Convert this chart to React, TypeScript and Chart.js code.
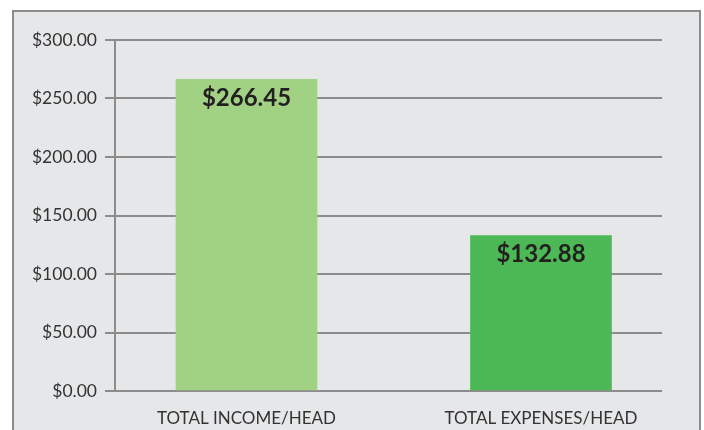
import React, { useEffect, useRef } from "react";
import { Chart, registerables } from "chart.js";

Chart.register(...registerables);

const categories = ["TOTAL INCOME/HEAD", "TOTAL EXPENSES/HEAD"];
const values = [266.45, 132.88];
const valueLabels = ["$266.45", "$132.88"];
const barColors = ["#a1d283", "#4cb856"];
const yTicks = [0, 50, 100, 150, 200, 250, 300];

const framePlugin = {
  id: "frame",
  beforeDraw(chart: any) {
    const ctx = chart.ctx;
    ctx.save();
    ctx.fillStyle = "#ffffff";
    ctx.fillRect(0, 0, chart.width, chart.height);
    ctx.fillStyle = "#e6e7e9";
    ctx.fillRect(13, 11, 687, chart.height);
    ctx.strokeStyle = "#8c8c8c";
    ctx.lineWidth = 2;
    ctx.strokeRect(13, 11, 687, chart.height + 10);
    ctx.restore();
  },
};

const valueLabelPlugin = {
  id: "valueLabels",
  afterDatasetsDraw(chart: any) {
    const ctx = chart.ctx;
    const meta = chart.getDatasetMeta(0);
    ctx.save();
    ctx.font = "bold 24px Lato";
    ctx.fillStyle = "#231f20";
    ctx.textAlign = "center";
    ctx.textBaseline = "middle";
    meta.data.forEach((bar: any, i: number) => {
      ctx.fillText(valueLabels[i], bar.x, bar.y + 19);
    });
    ctx.restore();
  },
};

export default function App() {
  const ref = useRef<HTMLCanvasElement>(null);
  useEffect(() => {
    if (!ref.current) return;
    const chart = new Chart(ref.current, {
      type: "bar",
      data: {
        datasets: [
          {
            data: values.map((v, i) => ({ x: i, y: v })),
            backgroundColor: barColors,
            barThickness: 141,
          },
        ],
      },
      options: {
        animation: false,
        responsive: false,
        devicePixelRatio: 1,
        layout: { padding: { left: 0, right: 42, top: 40, bottom: 0 } },
        plugins: { legend: { display: false }, tooltip: { enabled: false } },
        scales: {
          x: {
            type: "linear",
            offset: false,
            min: -0.4465,
            max: 1.4109,
            afterBuildTicks: (scale: any) => {
              scale.ticks = categories.map((_, i) => ({ value: i }));
            },
            afterFit: (scale: any) => {
              scale.height = 39;
            },
            grid: { display: false, offset: false },
            border: { display: false },
            ticks: {
              autoSkip: false,
              maxRotation: 0,
              padding: 9,
              color: "#333333",
              font: { family: "Lato", size: 17 },
              callback: (v: any) => categories[v] ?? "",
            },
          },
          y: {
            min: 0,
            max: 300,
            afterBuildTicks: (scale: any) => {
              scale.ticks = yTicks.map((v) => ({ value: v }));
            },
            afterFit: (scale: any) => {
              scale.width = 115;
            },
            grid: { color: "#8c8c8c", lineWidth: 2, tickLength: 10 },
            border: { display: true, color: "#8c8c8c", width: 2 },
            ticks: {
              padding: 8,
              color: "#333333",
              font: { family: "Lato", size: 17.5 },
              callback: (v: any) => "$" + Number(v).toFixed(2),
            },
          },
        },
      },
      plugins: [framePlugin, valueLabelPlugin],
    });
    return () => chart.destroy();
  }, []);
  return (
    <div style={{ position: "fixed", left: 0, top: 0, width: 704, height: 430 }}>
      <canvas ref={ref} width={704} height={430} />
    </div>
  );
}
